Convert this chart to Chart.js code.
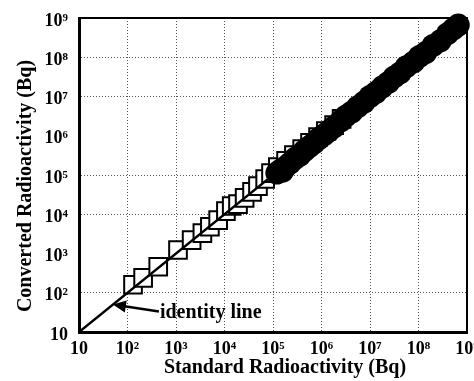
<!DOCTYPE html>
<html>
<head>
<meta charset="utf-8">
<script src="https://cdn.jsdelivr.net/npm/chart.js@4"></script>
<style>
  html, body { margin: 0; padding: 0; background: #fff; }
</style>
</head>
<body>
<canvas id="radioChart" width="474" height="381"></canvas>
<script>
// Standard vs converted radioactivity (Bq)
const squareStandard = [1.3e2, 2.1e2, 4.3e2, 1.1e3, 2.1e3, 3.5e3, 5.0e3, 7.4e3,
  1.07e4, 1.41e4, 1.9e4, 2.6e4, 3.7e4, 4.9e4, 6.9e4, 9.1e4,
  1.26e5, 1.86e5, 2.7e5, 4.0e5, 5.8e5, 8.5e5, 1.23e6, 1.82e6, 2.6e6];
const squareConverted = [1.6e2, 2.4e2, 4.6e2, 1.23e3, 2.2e3, 3.3e3, 4.8e3, 7.1e3,
  1.2e4, 1.62e4, 1.82e4, 2.6e4, 3.7e4, 5.2e4, 7.9e4, 1.12e5,
  1.58e5, 2.3e5, 3.2e5, 4.6e5, 6.6e5, 9.3e5, 1.32e6, 1.86e6, 2.7e6];

const circleStandard = [1.2e5, 1.41e5, 1.58e5, 1.78e5, 2.24e5, 2.82e5, 3.55e5, 4.47e5,
  5.62e5, 7.08e5, 8.91e5, 1.12e6, 1.41e6, 1.78e6, 2.51e6, 3.16e6, 4.17e6,
  5.62e6, 7.59e6, 1.0e7, 1.32e7, 1.78e7, 2.4e7, 3.16e7, 4.17e7, 5.62e7,
  7.94e7, 1.05e8, 1.41e8, 2.0e8, 2.82e8, 3.98e8, 5.25e8, 6.61e8];
const circleConverted = [1.12e5, 1.32e5, 1.26e5, 1.58e5, 2.0e5, 2.63e5, 3.16e5, 4.17e5,
  5.25e5, 6.61e5, 8.51e5, 1.05e6, 1.32e6, 1.66e6, 2.4e6, 3.16e6, 3.98e6,
  5.5e6, 7.24e6, 1.0e7, 1.26e7, 1.74e7, 2.29e7, 3.16e7, 3.98e7, 5.75e7,
  7.59e7, 1.05e8, 1.32e8, 2.0e8, 2.63e8, 3.98e8, 5.25e8, 6.61e8];

const identityEnds = [10, 1e9];

const tickValues = [10, 1e2, 1e3, 1e4, 1e5, 1e6, 1e7, 1e8, 1e9];
const tickLabels = ['10', '10²', '10³', '10⁴', '10⁵', '10⁶', '10⁷', '10⁸', '10⁹'];
const fadedYGrid = [1e3, 1e6];   // these dotted lines are lost in the scan

const xTitle = 'Standard Radioactivity (Bq)';
const yTitle = 'Converted Radioactivity (Bq)';
const noteText = 'identity line';
const noteAt = 50;

const serif = '"Liberation Serif", "Times New Roman", serif';

function pairs(xs, ys) {
    return xs.map((v, i) => ({ x: v, y: ys[i] }));
}

// titres, cadre haut/droite et flèche
const extras = {
    id: 'extras',
    afterDraw(chart) {
        const { ctx, chartArea: a, scales: { x, y } } = chart;
        ctx.save();
        ctx.strokeStyle = '#000';
        ctx.lineWidth = 2;
        ctx.beginPath();
        ctx.moveTo(a.left, a.top);
        ctx.lineTo(a.right, a.top);
        ctx.lineTo(a.right, a.bottom);
        ctx.stroke();

        ctx.fillStyle = '#000';
        ctx.font = 'bold 20px ' + serif;
        ctx.textAlign = 'center';
        ctx.textBaseline = 'middle';
        ctx.fillText(xTitle, a.left + 206, a.bottom + 36);
        ctx.save();
        ctx.translate(26, a.top + 168);
        ctx.rotate(-Math.PI / 2);
        ctx.fillText(yTitle, 0, 0);
        ctx.restore();

        // arrow pointing at the identity line
        const tx = x.getPixelForValue(noteAt);
        const ty = y.getPixelForValue(noteAt);
        const ex = tx + 46, ey = ty + 7;
        const ang = Math.atan2(ey - ty, ex - tx);
        ctx.lineWidth = 2.5;
        ctx.beginPath();
        ctx.moveTo(ex, ey);
        ctx.lineTo(tx + 10 * Math.cos(ang), ty + 10 * Math.sin(ang));
        ctx.stroke();
        ctx.beginPath();
        ctx.moveTo(tx, ty);
        ctx.lineTo(tx + 13 * Math.cos(ang) - 6 * Math.sin(ang), ty + 13 * Math.sin(ang) + 6 * Math.cos(ang));
        ctx.lineTo(tx + 13 * Math.cos(ang) + 6 * Math.sin(ang), ty + 13 * Math.sin(ang) - 6 * Math.cos(ang));
        ctx.closePath();
        ctx.fill();

        ctx.textAlign = 'left';
        ctx.textBaseline = 'alphabetic';
        ctx.fillText(noteText, tx + 47, ty + 13);
        ctx.restore();
    }
};

function powerTicks(scale) {
    scale.ticks = tickValues.map(v => ({ value: v }));
}

const tickFont = { family: serif, size: 18, weight: 'bold' };

new Chart(document.getElementById('radioChart'), {
    type: 'scatter',
    data: {
        datasets: [
            {
                data: pairs(circleStandard, circleConverted),
                pointStyle: 'circle',
                pointRadius: 11.5,
                backgroundColor: '#000',
                borderWidth: 0,
                clip: false,
                order: 0
            },
            {
                type: 'line',
                data: pairs(identityEnds, identityEnds),
                borderColor: '#000',
                borderWidth: 2.5,
                pointRadius: 0,
                order: 1
            },
            {
                data: pairs(squareStandard, squareConverted),
                pointStyle: 'rect',
                pointRadius: 12.5,
                backgroundColor: '#fff',
                borderColor: '#000',
                borderWidth: 2,
                order: 2
            }
        ]
    },
    options: {
        responsive: false,
        devicePixelRatio: 1,
        animation: false,
        layout: { autoPadding: false, padding: { top: 18, right: 7, left: 0, bottom: 0 } },
        plugins: { legend: { display: false }, tooltip: { enabled: false } },
        scales: {
            x: {
                type: 'logarithmic',
                min: 10,
                max: 1e9,
                afterBuildTicks: powerTicks,
                afterFit: s => { s.height = 49; s.paddingLeft = 0; s.paddingRight = 0; },
                ticks: {
                    autoSkip: false,
                    maxRotation: 0,
                    padding: 7,
                    font: tickFont,
                    color: '#000',
                    callback: (v, i) => tickLabels[i]
                },
                grid: { color: '#555', lineWidth: 1, drawTicks: false },
                border: { color: '#000', width: 3, dash: [1, 2] }
            },
            y: {
                type: 'logarithmic',
                min: 10,
                max: 1e9,
                afterBuildTicks: powerTicks,
                afterFit: s => { s.width = 79; s.paddingTop = 0; s.paddingBottom = 0; },
                ticks: {
                    autoSkip: false,
                    padding: 11,
                    labelOffset: 3,
                    font: tickFont,
                    color: '#000',
                    callback: (v, i) => tickLabels[i]
                },
                grid: {
                    color: c => (c.tick && fadedYGrid.includes(c.tick.value)) ? 'rgba(0,0,0,0)' : '#555',
                    lineWidth: 1,
                    drawTicks: false
                },
                border: { color: '#000', width: 3, dash: [1, 2] }
            }
        }
    },
    plugins: [extras]
});
</script>
</body>
</html>
